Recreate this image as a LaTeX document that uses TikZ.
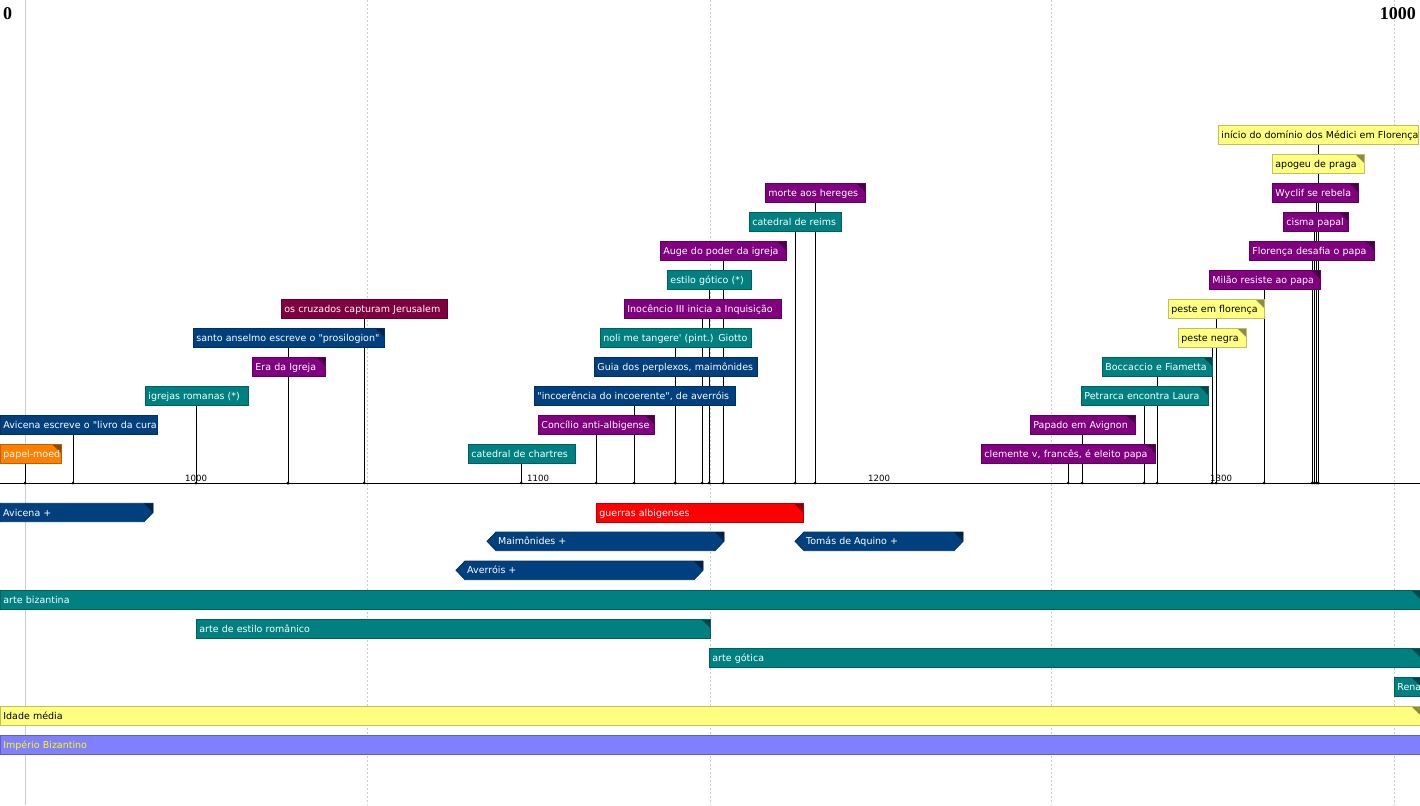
\documentclass[tikz,border=0pt]{standalone}
\usepackage{fontspec}
\setmainfont{DejaVu Sans}
\newfontfamily\headfont{Liberation Serif}
\usepackage{tikz}
\usetikzlibrary{backgrounds}
\usepackage{xcolor}

\definecolor{evblue}{HTML}{00407F}
\definecolor{evteal}{HTML}{008080}
\definecolor{evpurple}{HTML}{800080}
\definecolor{evmaroon}{HTML}{800040}
\definecolor{evorange}{HTML}{FF8000}
\definecolor{evyellow}{HTML}{FFFF80}
\definecolor{evred}{HTML}{FF0000}
\definecolor{evviolet}{HTML}{8080FF}
\definecolor{evtextyellow}{HTML}{FFFF00}

\hyphenpenalty=10000
\exhyphenpenalty=10000

\begin{document}
\begin{tikzpicture}[
    x=1pt, y=-1pt,
    font=\fontsize{9.5}{11}\selectfont,
    ev/.style={rectangle, draw=#1!75!black, fill=#1, line width=0.8pt, text=white,
        anchor=north west, minimum height=18.7pt, inner xsep=3pt, inner ysep=0pt,
        align=left, text height=8.5pt, text depth=1.5pt},
    evf/.style={ev=#1, path picture={\fill[#1!55!black]
        ([xshift=-9pt]path picture bounding box.north east) --
        (path picture bounding box.north east) --
        ([yshift=-9pt]path picture bounding box.north east) -- cycle;}},
    pbar/.style={fill=evblue, draw=evblue!75!black, line width=0.8pt},
    pfold/.style={fill=evblue!55!black},
    plabel/.style={anchor=west, inner sep=0pt, text=white, text height=8.5pt, text depth=1.5pt},
    yr/.style={anchor=base west, inner sep=0pt, font=\fontsize{8.6}{10}\selectfont},
    head/.style={inner sep=0pt, font=\headfont\bfseries\fontsize{18}{18}\selectfont},
    grid/.style={gray!40, line width=0.8pt},
    stem/.style={line width=0.8pt}
]
    \useasboundingbox (0,0) rectangle (1420,805);

    % scale heads
    \node[head, anchor=north west] (h0) at (3,7) {0};
    \node[head, anchor=north east] (h1000) at (1416,7) {1000};

    % time axis
    \draw[stem] (0,483) -- (1420,483);
    \node[yr] (y1000) at (185,481) {1000};
    \node[yr] (y1100) at (527,481) {1100};
    \node[yr] (y1200) at (868,481) {1200};
    \node[yr] (y1300) at (1210,481) {1300};

    % events, bottom row first
    \node[evf=evorange, text width=55pt] (papel) at (0,444) {papel-moed};
    \node[ev=evteal, text width=101pt] (chartres) at (468,444) {catedral de chartres};
    \node[evf=evpurple, text width=168pt] (clemente) at (981,444) {clemente v, francês, é eleito papa};

    \node[ev=evblue, text width=151pt] (avlivro) at (0,415) {\mbox{Avicena escreve o \textquotedbl livro da cura}};
    \node[evf=evpurple, text width=110pt] (concilio) at (538,415) {Concílio anti-albigense};
    \node[evf=evpurple, text width=99pt] (papado) at (1030,415) {Papado em Avignon};

    \node[ev=evteal, text width=97pt] (igrejas) at (145,386) {igrejas romanas (*)};
    \node[ev=evblue, text width=195pt] (incoer) at (534,386) {\textquotedbl incoerência do incoerente\textquotedbl, de averróis};
    \node[evf=evteal, text width=121pt] (petrarca) at (1081,386) {Petrarca encontra Laura};

    \node[evf=evpurple, text width=67pt] (era) at (252,357) {Era da Igreja};
    \node[ev=evblue, text width=157pt] (guia) at (594,357) {Guia dos perplexos, maimônides};
    \node[evf=evteal, text width=104pt] (boccaccio) at (1102,357) {Boccaccio e Fiametta};

    \node[evf=evblue, text width=185pt] (anselmo) at (193,328) {santo anselmo escreve o \textquotedbl prosilogion\textquotedbl};
    \node[ev=evteal, text width=145pt] (noli) at (600,328) {noli me tangere\textquotesingle{} (pint.) Giotto};
    \node[evf=evyellow, text=black, text width=62pt] (pestenegra) at (1178,328) {peste negra};

    \node[ev=evmaroon, text width=160pt] (cruzados) at (281,299) {os cruzados capturam Jerusalem};
    \node[ev=evpurple, text width=151pt] (inocencio) at (624,299) {Inocêncio III inicia a Inquisição};
    \node[evf=evyellow, text=black, text width=90pt] (pesteflor) at (1168,299) {peste em florença};

    \node[ev=evteal, text width=78pt] (estilo) at (667,270) {estilo gótico (*)};
    \node[evf=evpurple, text width=105pt] (milao) at (1209,270) {Milão resiste ao papa};

    \node[evf=evpurple, text width=120pt] (auge) at (660,241) {Auge do poder da igreja};
    \node[evf=evpurple, text width=119pt] (florenca) at (1249,241) {Florença desafia o papa};

    \node[ev=evteal, text width=86pt] (reims) at (749,212) {catedral de reims};
    \node[evf=evpurple, text width=59pt] (cisma) at (1283,212) {cisma papal};

    \node[evf=evpurple, text width=94pt] (morte) at (765,183) {morte aos hereges};
    \node[evf=evpurple, text width=80pt] (wyclif) at (1272,183) {Wyclif se rebela};

    \node[evf=evyellow, text=black, text width=86pt] (apogeu) at (1272,154) {apogeu de praga};
    \node[ev=evyellow, text=black, text width=194pt] (inicio) at (1218,125) {\mbox{início do domínio dos Médici em Florença}};

    % periods
    \filldraw[pbar] (0,503.3) -- (153,503.3) -- (153,512.5) -- (144,521.7) -- (0,521.7) -- cycle;
    \fill[pfold] (144,503.3) -- (153,503.3) -- (153,512.5) -- cycle;
    \node[plabel] (avicena) at (3,512.5) {Avicena +};
    \foreach \l/\r/\t/\nm/\lab in {487/724/532/maimo/Maimônides +,
            795/963/532/tomas/Tomás de Aquino +, 456/703/561/averrois/Averróis +} {
        \filldraw[pbar] (\l,\t+9.3) -- (\l+9,\t) -- (\r,\t) -- (\r,\t+9.3)
            -- (\r-9,\t+18.7) -- (\l+9,\t+18.7) -- cycle;
        \fill[pfold] (\r-9,\t) -- (\r,\t) -- (\r,\t+9.3) -- cycle;
        \node[plabel] (\nm) at (\l+11,\t+9.3) {\lab};
    }
    \node[evf=evred, text width=201pt] (guerras) at (596,503.3) {guerras albigenses};
    \node[evf=evteal, text width=1414pt] (bizantina) at (0,590) {arte bizantina};
    \node[evf=evteal, text width=508pt] (romanico) at (196,619) {arte de estilo românico};
    \node[evf=evteal, text width=705pt] (gotica) at (709,648) {arte gótica};
    \node[evf=evteal, text width=20pt] (rena) at (1394,677) {Rena};
    \node[evf=evyellow, text=black, text width=1414pt] (idade) at (0,706) {Idade média};
    \node[ev=evviolet, text=evtextyellow, text width=1414pt] (imperio) at (0,735) {Império Bizantino};

    % grid and stems behind the boxes
    \begin{scope}[on background layer]
        \draw[grid] (25,0) -- (25,805);
        \foreach \x in {367,710,1051,1394}
            \draw[grid, dash pattern=on 2pt off 2pt] (\x,0) -- (\x,805);
        \foreach \x/\nm in {25/papel, 73/avlivro, 196/igrejas, 288/era, 288/anselmo,
                364/cruzados, 521/chartres, 596/concilio, 634/incoer, 675/guia,
                675/noli, 702/inocencio, 709/estilo, 723/auge, 795/reims, 815/morte,
                1068/clemente, 1082/papado, 1144/petrarca, 1157/boccaccio,
                1212/pestenegra, 1216/pesteflor, 1264/milao, 1312/florenca,
                1314/cisma, 1316/wyclif, 1318/apogeu, 1318/inicio} {
            \draw[stem] (\x,483) -- (\x,0 |- \nm.south);
            \fill (\x,483) circle (1.5pt);
        }
    \end{scope}
\end{tikzpicture}
\end{document}
